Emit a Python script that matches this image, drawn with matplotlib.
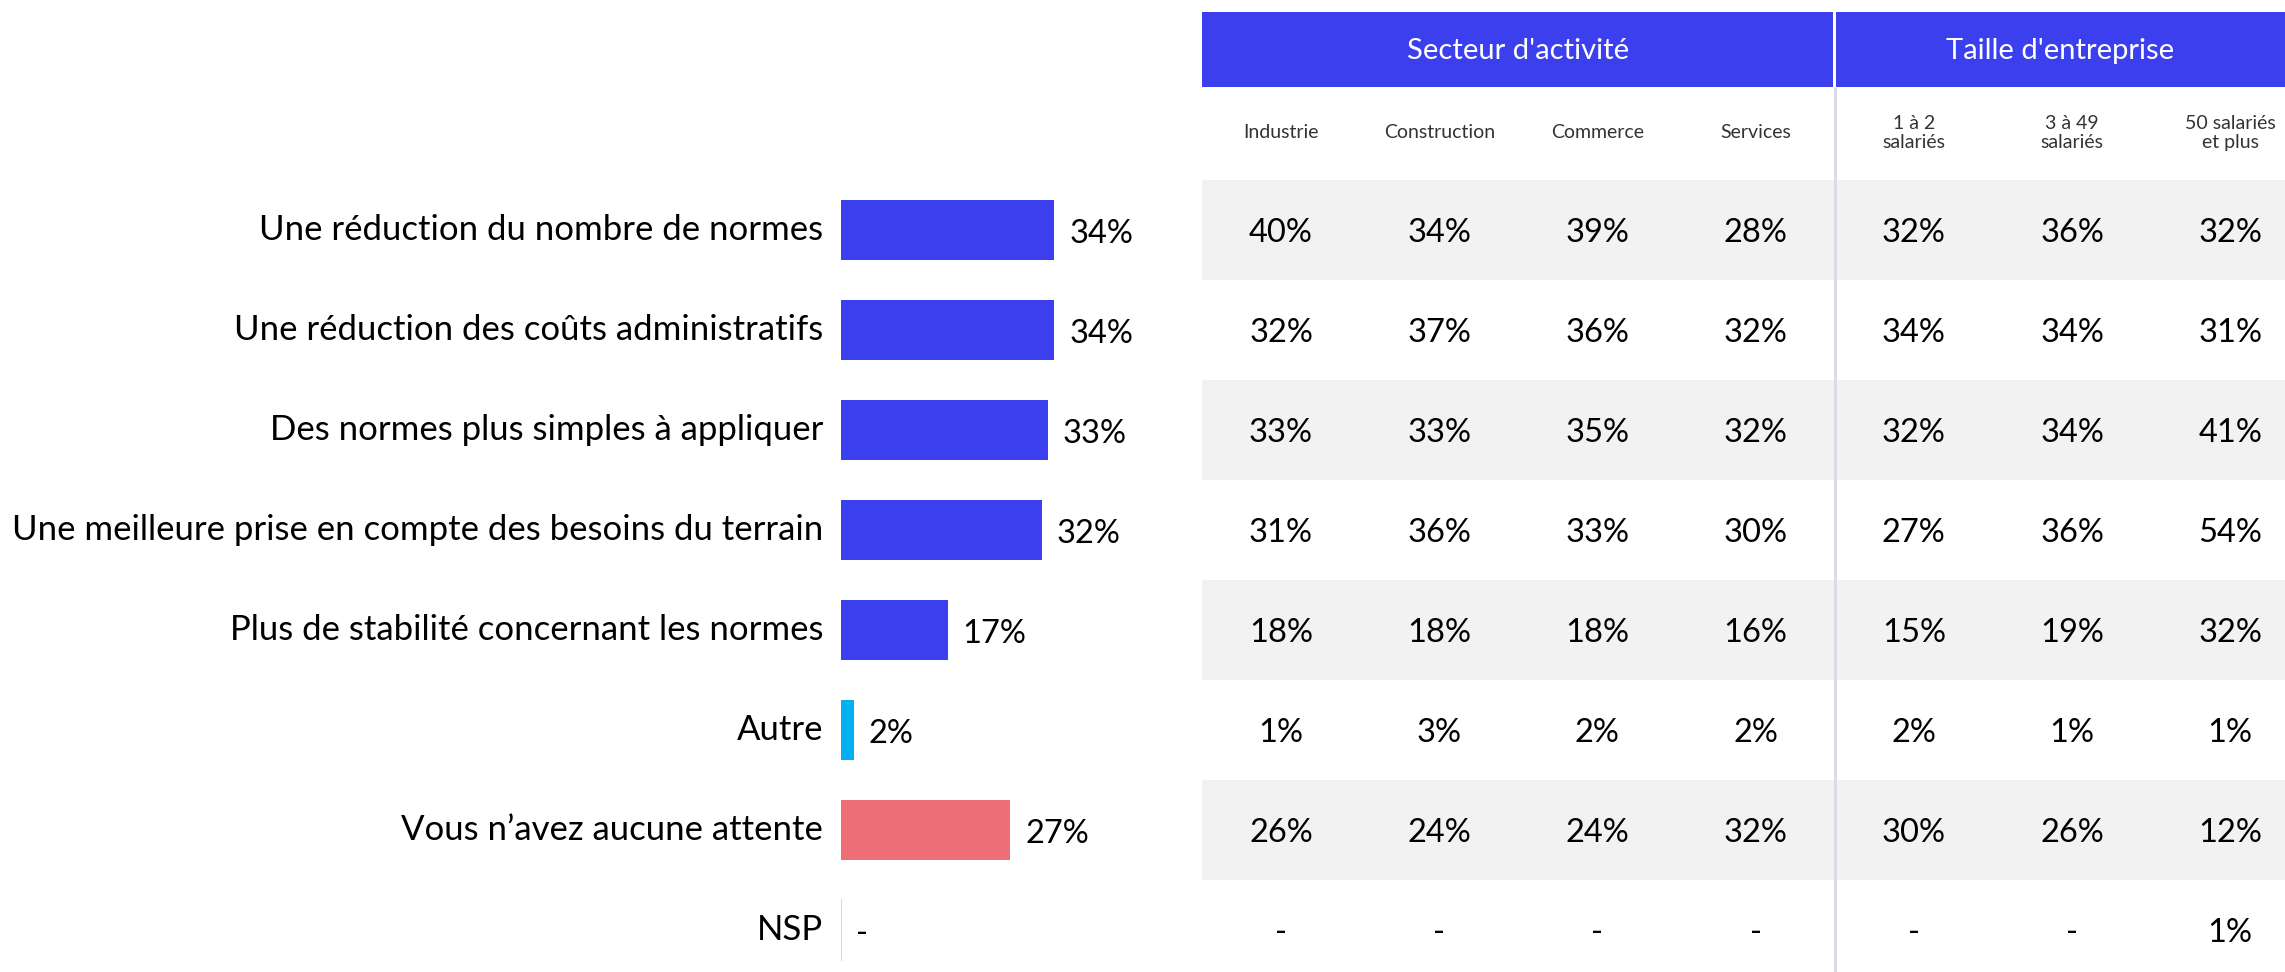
import matplotlib
matplotlib.use("Agg")
import matplotlib.pyplot as plt

plt.rcParams['font.family'] = ['Lato', 'DejaVu Sans']

# ---------------- data ----------------
categories = [
    "Une réduction du nombre de normes",
    "Une réduction des coûts administratifs",
    "Des normes plus simples à appliquer",
    "Une meilleure prise en compte des besoins du terrain",
    "Plus de stabilité concernant les normes",
    "Autre",
    "Vous n’avez aucune attente",
    "NSP",
]
totals = [34, 34, 33, 32, 17, 2, 27, None]
bar_colors = ["#3C3FEE"] * 5 + ["#00B0F0", "#ED6E77", "#3C3FEE"]

group_labels = ["Secteur d'activité", "Taille d'entreprise"]
col_labels = ["Industrie", "Construction", "Commerce", "Services",
              "1 à 2\nsalariés", "3 à 49\nsalariés", "50 salariés\net plus"]

industrie    = [40, 32, 33, 31, 18, 1, 26, None]
construction = [34, 37, 33, 36, 18, 3, 24, None]
commerce     = [39, 36, 35, 33, 18, 2, 24, None]
services     = [28, 32, 32, 30, 16, 2, 32, None]
sal_1_2      = [32, 34, 32, 27, 15, 2, 30, None]
sal_3_49     = [36, 34, 34, 36, 19, 1, 26, None]
sal_50_plus  = [32, 31, 41, 54, 32, 1, 12, 1]
columns = [industrie, construction, commerce, services, sal_1_2, sal_3_49, sal_50_plus]

# ---------------- figure ----------------
W, H = 2285, 972
DPI = 100
fig = plt.figure(figsize=(W / DPI, H / DPI), dpi=DPI)
fig.patch.set_facecolor("white")

def fx(px):
    return px / W

def fy(py):  # py measured from top
    return 1 - py / H

BLUE = "#3C3FEE"
GRAY = "#F2F2F2"
LINE = "#D6DCE5"
FS_LAB = 25
FS_NUM = 23.5

# ---- table axes: x in column units, y in row units ----
tx0, tx1 = 1202, 2285
col_px0, col_step = 1281, 158.2
xl = (tx0 - col_px0) / col_step
xr = (tx1 - col_px0) / col_step
row_px0, row_step = 230, 100
yt = (0 - row_px0) / row_step
yb = (H - row_px0) / row_step

tax = fig.add_axes([fx(tx0), 0, fx(tx1 - tx0), 1])
tax.set_xlim(xl, xr)
tax.set_ylim(yb, yt)
tax.axis("off")

nrows = len(categories)
ncols = len(col_labels)
# gray bands
for i in range(0, nrows - 1, 2):
    tax.axhspan(i - 0.5, i + 0.5, xmin=0, xmax=1, color=GRAY, lw=0, zorder=0)

# header bands
hy0 = (12 - row_px0) / row_step
hy1 = (87 - row_px0) / row_step
div = 3.5
tax.fill_between([xl, div - 0.01], hy0, hy1, color=BLUE, lw=0, zorder=1)
tax.fill_between([div + 0.01, xr + 0.5], hy0, hy1, color=BLUE, lw=0, zorder=1)
tax.text((xl + div) / 2, (hy0 + hy1) / 2 + 0.02, group_labels[0], color="white",
         fontsize=21, ha="center", va="center", zorder=3)
tax.text((div + xr) / 2, (hy0 + hy1) / 2 + 0.02, group_labels[1], color="white",
         fontsize=21, ha="center", va="center", zorder=3)
# divider line
tax.plot([div, div], [hy1, yb], color=LINE, lw=2, zorder=2, solid_capstyle="butt")

# sub headers
sy = (133 - row_px0) / row_step
for j, lab in enumerate(col_labels):
    tax.text(j, sy, lab, fontsize=14, ha="center", va="center",
             color="#333333", linespacing=1.2)

# values
for j, col in enumerate(columns):
    for i, v in enumerate(col):
        s = "-" if v is None else f"{v}%"
        tax.text(j, i + 0.03, s, fontsize=FS_NUM, ha="center", va="center", color="black")

# ---- bar axes ----
bx0 = 841
px_per = 6.27
bw = 340
bax = fig.add_axes([fx(bx0), fy(row_px0 - 50 + 800), fx(bw), 800 / H])
bax.set_xlim(0, bw / px_per)
bax.set_ylim(nrows - 0.5, -0.5)
bax.axis("off")

ypos = list(range(nrows))
vals = [0 if v is None else v for v in totals]
bax.barh(ypos, vals, height=0.6, color=bar_colors, zorder=2)
# short axis line at NSP
bax.plot([0, 0], [7 - 0.3, 7 + 0.3], color=LINE, lw=1.5, zorder=1)

off = 15 / px_per
for i, (v, lab) in enumerate(zip(totals, categories)):
    s = "-" if v is None else f"{v}%"
    xv = 0 if v is None else v
    bax.text(xv + off, i + 0.04, s, fontsize=FS_NUM, ha="left", va="center", clip_on=False)
    bax.text(-18 / px_per, i, lab, fontsize=FS_LAB, ha="right", va="center", clip_on=False)

fig.savefig("out.png", dpi=DPI, facecolor="white")
